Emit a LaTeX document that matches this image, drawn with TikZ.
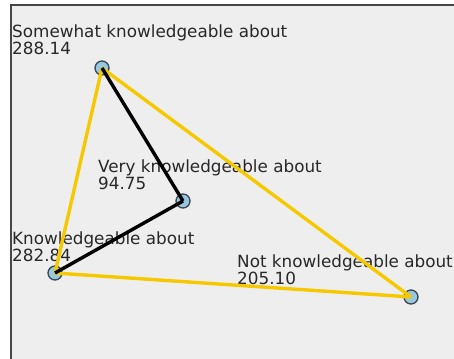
\documentclass[tikz,border=0pt]{standalone}
\usepackage{fontspec}
\setmainfont{DejaVu Sans}
\definecolor{bgc}{RGB}{238,238,238}
\definecolor{framec}{RGB}{70,70,70}
\definecolor{yel}{RGB}{245,200,0}
\definecolor{dotfill}{RGB}{150,200,225}
\definecolor{dotline}{RGB}{60,70,80}
\definecolor{txt}{RGB}{40,40,40}
\tikzset{
  lbl/.style={anchor=base west, align=left, inner sep=0pt, text=txt,
    font=\fontsize{16.8}{17}\selectfont},
  dot/.style={circle, draw=dotline, fill=dotfill, line width=1.3pt,
    minimum size=14pt, inner sep=0pt},
  yedge/.style={draw=yel, line width=3.4pt},
  bedge/.style={draw=black, line width=3.4pt},
}
\begin{document}
\begin{tikzpicture}[x=1pt,y=-1pt]
\useasboundingbox (0,0) rectangle (454,358);
\clip (0,0) rectangle (454,358);
\fill[bgc] (11,5) rectangle (460,365);
\draw[framec, line width=1.6pt] (11,365) -- (11,5) -- (460,5);
\node[lbl] (ls) at (12,54.5) {Somewhat knowledgeable about\\288.14};
\node[lbl] (lv) at (98,189) {Very knowledgeable about\\94.75};
\node[lbl] (lk) at (12,261) {Knowledgeable about\\282.84};
\node[lbl] (ln) at (237,284) {Not knowledgeable about\\205.10};
\node[dot] (s) at (102,68) {};
\node[dot] (v) at (183,201) {};
\node[dot] (k) at (55,273) {};
\node[dot] (n) at (411,297) {};
\draw[yedge] (s.center) -- (k.center);
\draw[yedge] (s.center) -- (n.center);
\draw[yedge] (k.center) -- (n.center);
\draw[bedge] (s.center) -- (v.center);
\draw[bedge] (v.center) -- (k.center);
\end{tikzpicture}
\end{document}
